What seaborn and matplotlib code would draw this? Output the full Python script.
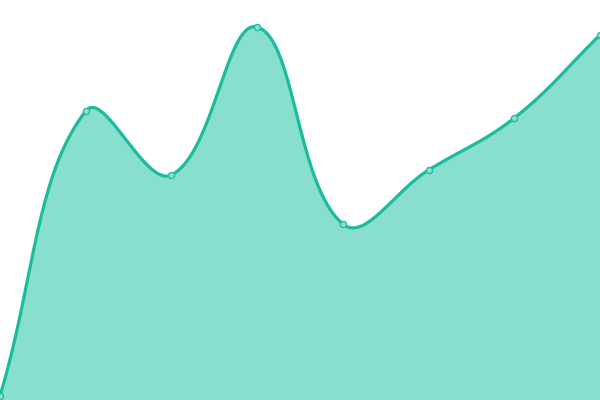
import numpy as np
import pandas as pd
import seaborn as sns
import matplotlib
matplotlib.use("Agg")
import matplotlib.pyplot as plt

# data
labels = ["1", "2", "3", "4", "5", "6", "7", "8"]
values = [4, 289, 225, 373, 176, 230, 282, 365]

line_c = "#1abc9c"
fill_c = "#89dfce"

sns.set_style("white")


def spline(xs, ys, t=0.4, n=40):
    # chart.js style cardinal bezier
    pts = np.column_stack([xs, ys]).astype(float)
    m = len(pts)
    cp_prev = pts.copy()
    cp_next = pts.copy()
    for i in range(m):
        p0 = pts[i - 1] if i > 0 else pts[i]
        p1 = pts[i]
        p2 = pts[i + 1] if i < m - 1 else pts[i]
        d01 = np.hypot(*(p1 - p0))
        d12 = np.hypot(*(p2 - p1))
        s01 = d01 / (d01 + d12) if d01 + d12 else 0
        s12 = d12 / (d01 + d12) if d01 + d12 else 0
        cp_prev[i] = p1 - t * s01 * (p2 - p0)
        cp_next[i] = p1 + t * s12 * (p2 - p0)
    out = []
    u = np.linspace(0, 1, n)[:, None]
    for i in range(m - 1):
        a, b, c, d = pts[i], cp_next[i], cp_prev[i + 1], pts[i + 1]
        seg = (1 - u) ** 3 * a + 3 * (1 - u) ** 2 * u * b + 3 * (1 - u) * u ** 2 * c + u ** 3 * d
        out.append(seg if i == 0 else seg[1:])
    return np.vstack(out)


x = np.arange(len(values))
# chart.js works in pixel space, so scale to 600x400 before smoothing
px = x * 600 / (len(values) - 1)
py = np.array(values, dtype=float)
curve = spline(px, py)
cx = curve[:, 0] * (len(values) - 1) / 600
cy = curve[:, 1]

df = pd.DataFrame({"x": cx, "y": cy})
pts = pd.DataFrame({"x": x, "y": values, "label": labels})

fig = plt.figure(figsize=(6, 4), dpi=100)
ax = fig.add_axes([0, 0, 1, 1])
ax.fill_between(cx, cy, 0, color=fill_c, lw=0)
sns.lineplot(data=df, x="x", y="y", ax=ax, color=line_c, lw=2.3, sort=False)
sns.scatterplot(data=pts, x="x", y="y", ax=ax, s=20, color=fill_c,
                edgecolor=line_c, linewidth=0.9, zorder=5)
ax.set_xlim(0, len(values) - 1)
ax.set_ylim(0, 400)
ax.axis("off")
fig.savefig("out.png", dpi=100)
